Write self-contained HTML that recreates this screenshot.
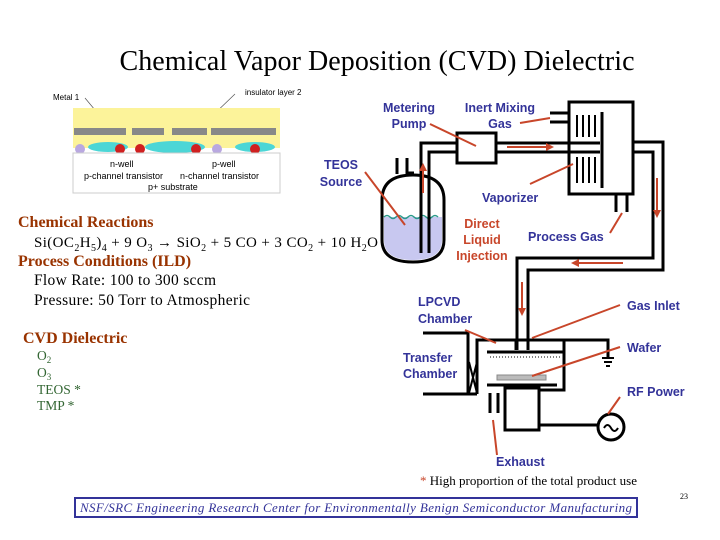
<!DOCTYPE html>
<html><head><meta charset="utf-8"><style>
html,body{margin:0;padding:0;background:#fff;width:720px;height:540px;overflow:hidden}
svg{display:block}
.b{font-family:"Liberation Sans",sans-serif;font-weight:bold;font-size:12.5px;fill:#333399}
.r{font-family:"Liberation Sans",sans-serif;font-weight:bold;font-size:12.5px;fill:#c8462a}
.s{font-family:"Liberation Serif",serif}
.h{font-family:"Liberation Serif",serif;font-weight:bold;font-size:16px;fill:#993300}
.g{font-family:"Liberation Serif",serif;font-size:13.5px;fill:#336633}
.k{stroke:#000;stroke-width:3;fill:none}
.ld{stroke:#c8462a;stroke-width:2;fill:none}
</style></head><body>
<svg width="720" height="540" viewBox="0 0 720 540" xmlns="http://www.w3.org/2000/svg">
<defs><marker id="a" markerWidth="8" markerHeight="8" refX="6" refY="4" orient="auto" markerUnits="userSpaceOnUse"><path d="M0,0 L8,4 L0,8 z" fill="#c8462a"/></marker></defs>
<text x="377" y="70" text-anchor="middle" class="s" font-size="28" textLength="515">Chemical Vapor Deposition (CVD) Dielectric</text>

<!-- chip cross-section -->
<text x="53" y="100" font-family="Liberation Sans" font-size="8">Metal 1</text>
<text x="245" y="95" font-family="Liberation Sans" font-size="8">insulator layer 2</text>
<path d="M85,98 L110,128 M235,94 L210,118" stroke="#555" stroke-width="0.7" fill="none"/>
<rect x="73" y="108" width="207" height="40" fill="#fcf39a"/>
<rect x="74" y="128" width="52" height="7" fill="#888"/><rect x="132" y="128" width="32" height="7" fill="#888"/><rect x="172" y="128" width="35" height="7" fill="#888"/><rect x="211" y="128" width="65" height="7" fill="#888"/>
<ellipse cx="108" cy="147" rx="20" ry="5" fill="#4cd6d6"/><ellipse cx="175" cy="147" rx="30" ry="6" fill="#4cd6d6"/><ellipse cx="255" cy="147" rx="20" ry="5" fill="#4cd6d6"/>
<circle cx="80" cy="149" r="5" fill="#b9a8e0"/><circle cx="120" cy="149" r="5" fill="#d02020"/><circle cx="140" cy="149" r="5" fill="#d02020"/><circle cx="196" cy="149" r="5" fill="#d02020"/><circle cx="217" cy="149" r="5" fill="#b9a8e0"/><circle cx="255" cy="149" r="5" fill="#d02020"/>
<rect x="73" y="153" width="207" height="40" fill="#fff" stroke="#ccc"/>
<text x="110" y="167" font-family="Liberation Sans" font-size="9">n-well</text>
<text x="212" y="167" font-family="Liberation Sans" font-size="9">p-well</text>
<text x="84" y="179" font-family="Liberation Sans" font-size="9">p-channel transistor</text>
<text x="180" y="179" font-family="Liberation Sans" font-size="9">n-channel transistor</text>
<text x="148" y="190" font-family="Liberation Sans" font-size="9">p+ substrate</text>

<!-- left text -->
<text x="18" y="227" class="h">Chemical Reactions</text>
<text x="34" y="247" class="s" font-size="15" textLength="344">Si(OC<tspan font-size="10" dy="4">2</tspan><tspan dy="-4">H</tspan><tspan font-size="10" dy="4">5</tspan><tspan dy="-4">)</tspan><tspan font-size="10" dy="4">4</tspan><tspan dy="-4"> + 9 O</tspan><tspan font-size="10" dy="4">3</tspan><tspan dy="-4"> → SiO</tspan><tspan font-size="10" dy="4">2</tspan><tspan dy="-4"> + 5 CO + 3 CO</tspan><tspan font-size="10" dy="4">2</tspan><tspan dy="-4"> + 10 H</tspan><tspan font-size="10" dy="4">2</tspan><tspan dy="-4">O</tspan></text>
<text x="18" y="266" class="h">Process Conditions (ILD)</text>
<text x="34" y="285" class="s" font-size="15.5" textLength="182">Flow Rate:  100 to 300 sccm</text>
<text x="34" y="305" class="s" font-size="15.5" textLength="216">Pressure:  50 Torr to Atmospheric</text>
<text x="23" y="343" class="h">CVD Dielectric</text>
<text x="37" y="360" class="g">O<tspan font-size="9" dy="3">2</tspan></text>
<text x="37" y="377" class="g">O<tspan font-size="9" dy="3">3</tspan></text>
<text x="37" y="394" class="g">TEOS *</text>
<text x="37" y="410" class="g">TMP *</text>

<!-- flask -->
<path d="M382,200 Q382,175 413,175 Q444,175 444,200 L444,240 Q444,262 413,262 Q382,262 382,240 Z" fill="none" stroke="#000" stroke-width="3"/>
<path d="M384,217 L442,217 L442,240 Q442,260 413,260 Q384,260 384,240Z" fill="#c8c8f0"/>
<path d="M384,217 q3,-3 6,0 t6,0 t6,0 t6,0 t6,0 t6,0 t6,0 t6,0 t6,0" stroke="#2a9a8a" stroke-width="1.5" fill="none"/>
<path d="M397,158 L397,174 M407,158 L407,173 L414,173" class="k"/>
<path d="M457,143 L421,143 L421,253 M457,152 L429,152 L429,253" class="k"/>
<rect x="457" y="133" width="39" height="30" class="k"/>
<path d="M496,143 L600,143 M496,152 L600,152" class="k"/>
<!-- vaporizer -->
<rect x="569" y="102" width="64" height="92" class="k"/>
<path d="M602,112 L602,188 M550,113 L569,113 M550,122 L569,122" class="k"/>
<g stroke="#000" stroke-width="2">
<path d="M577,115 v22 M583,115 v22 M589,115 v22 M595,115 v22 M577,157 v26 M583,157 v26 M589,157 v26 M595,157 v26"/></g>
<path d="M616,194 L616,212 M627,194 L627,212" class="k"/>
<path d="M633,142 L663,142 L663,270 L528,270 L528,350 M633,152 L653,152 L653,258 L517,258 L517,350" class="k"/>
<!-- arrows -->
<path d="M507,147 L552,147" class="ld" marker-end="url(#a)"/>
<path d="M423,193 L423,165" class="ld" marker-end="url(#a)"/>
<path d="M657,178 L657,216" class="ld" marker-end="url(#a)"/>
<path d="M623,263 L573,263" class="ld" marker-end="url(#a)"/>
<path d="M522,282 L522,314" class="ld" marker-end="url(#a)"/>
<!-- chamber -->
<path d="M516,350 L516,340 L477,340 L477,394 M528,350 L528,340 L608,340 L608,358 M477,340 L564,340 L564,390 L539,390" class="k"/>
<path d="M602,358 h12 M604,362 h8 M606,366 h4" stroke="#000" stroke-width="2"/>
<path d="M487,352 L563,352" stroke="#000" stroke-width="3"/>
<path d="M490,357 L560,357" stroke="#000" stroke-width="1" stroke-dasharray="1,2"/>
<rect x="497" y="375" width="49" height="5" fill="#bbb" stroke="#888"/>
<path d="M487,385 L557,385" stroke="#000" stroke-width="3"/>
<rect x="505" y="388" width="34" height="42" class="k"/>
<path d="M539,425 L598,425" class="k"/>
<circle cx="611" cy="427" r="13" class="k"/>
<path d="M604,428 q3.5,-6 7,0 t7,0" stroke="#000" stroke-width="2" fill="none"/>
<path d="M423,333 L468,333 L468,394 M423,394 L477,394" class="k"/>
<path d="M469,362 L477,393 M477,362 L469,393" stroke="#000" stroke-width="2"/>
<path d="M490,393 L490,413 M498,393 L498,413" class="k"/>
<!-- leaders -->
<path d="M430,124 L476,146 M520,123 L550,118 M365,172 L405,225 M530,184 L573,164 M610,233 L622,213 M465,330 L496,343 M620,305 L532,338 M620,347 L532,376 M620,397 L608,414 M493,420 L497,455" class="ld" stroke-width="1.6"/>
<!-- labels -->
<text x="409" y="112" text-anchor="middle" class="b">Metering</text>
<text x="409" y="128" text-anchor="middle" class="b">Pump</text>
<text x="500" y="112" text-anchor="middle" class="b">Inert Mixing</text>
<text x="500" y="128" text-anchor="middle" class="b">Gas</text>
<text x="341" y="169" text-anchor="middle" class="b">TEOS</text>
<text x="341" y="186" text-anchor="middle" class="b">Source</text>
<text x="482" y="202" class="b">Vaporizer</text>
<text x="482" y="228" text-anchor="middle" class="r">Direct</text>
<text x="482" y="244" text-anchor="middle" class="r">Liquid</text>
<text x="482" y="260" text-anchor="middle" class="r">Injection</text>
<text x="528" y="241" class="b">Process Gas</text>
<text x="418" y="306" class="b">LPCVD</text>
<text x="418" y="323" class="b">Chamber</text>
<text x="627" y="310" class="b">Gas Inlet</text>
<text x="627" y="352" class="b">Wafer</text>
<text x="403" y="362" class="b">Transfer</text>
<text x="403" y="378" class="b">Chamber</text>
<text x="627" y="396" class="b">RF Power</text>
<text x="496" y="466" class="b">Exhaust</text>
<text x="420" y="485" class="s" font-size="13"><tspan fill="#c8462a">*</tspan> High proportion of the total product use</text>
<text x="680" y="499" class="s" font-size="8">23</text>
<rect x="75" y="498" width="562" height="19" fill="none" stroke="#333399" stroke-width="2"/>
<text x="356" y="512" text-anchor="middle" class="s" font-style="italic" font-size="13" fill="#333399" textLength="552">NSF/SRC Engineering Research Center for Environmentally Benign Semiconductor Manufacturing</text>
</svg>
</body></html>
